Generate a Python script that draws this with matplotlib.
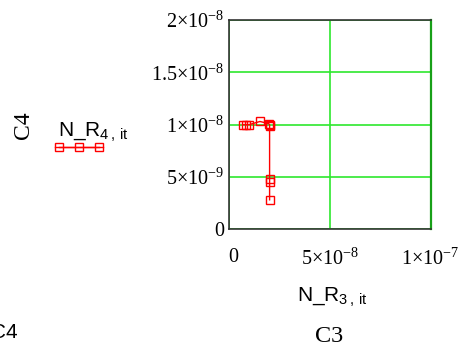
import numpy as np
import matplotlib
matplotlib.use("Agg")
import matplotlib.pyplot as plt
from matplotlib.transforms import ScaledTranslation

plt.rcParams['mathtext.fontset'] = 'custom'
plt.rcParams['mathtext.rm'] = 'Liberation Serif'

# N_R3,it (x) and N_R4,it (y) iteration values
n_r3 = [6.6e-9, 8.3e-9, 9.9e-9, 1.52e-8, 1.95e-8, 2.0e-8, 2.0e-8, 2.0e-8, 2.0e-8, 2.0e-8]
n_r4 = [1.0e-8, 1.0e-8, 1.0e-8, 1.03e-8, 1.01e-8, 1.0e-8, 0.99e-8, 0.48e-8, 0.45e-8, 0.28e-8]

x_ticks = [0, 5e-8, 1e-7]
x_labels = ['0', r'$\mathregular{5×10^{-8}}$', r'$\mathregular{1×10^{-7}}$']
y_ticks = [0, 5e-9, 1e-8, 1.5e-8, 2e-8]
y_labels = ['0', r'$\mathregular{5×10^{-9}}$', r'$\mathregular{1×10^{-8}}$',
            r'$\mathregular{1.5×10^{-8}}$', r'$\mathregular{2×10^{-8}}$']

red = '#ff0000'
green = '#2ee82e'

fig = plt.figure(figsize=(4.7, 3.54), dpi=100)
ax = fig.add_axes([0.488, 0.353, 0.428, 0.590])

ax.plot(n_r3, n_r4, color=red, lw=1, marker='s', ms=5.5, mfc='none', mec=red, mew=1)

ax.set_xlim(0, 1e-7)
ax.set_ylim(0, 2e-8)
ax.set_xticks(x_ticks)
ax.set_xticklabels(x_labels)
ax.set_yticks(y_ticks)
ax.set_yticklabels(y_labels)
ax.tick_params(length=0, labelsize=14.5)
ax.tick_params(axis='x', pad=14)
ax.tick_params(axis='y', pad=3.5)
for lab in ax.get_xticklabels() + ax.get_yticklabels():
    lab.set_family('Liberation Serif')
# the "0" under the x axis sits a little to the right
zero = ax.get_xticklabels()[0]
zero.set_transform(zero.get_transform() + ScaledTranslation(4 / 100, 0, fig.dpi_scale_trans))

ax.grid(True, color=green, lw=1.2)
ax.set_axisbelow(True)
for side in ['left', 'bottom', 'top']:
    ax.spines[side].set_color('#333333')
    ax.spines[side].set_linewidth(1.2)
ax.spines['right'].set_color('#18a018')
ax.spines['right'].set_linewidth(1.6)

# axis captions
fig.text(297 / 470, 1 - 301.5 / 354, r'$\mathregular{N\_R_{3\,,\,it}}$', family='Liberation Sans',
         fontsize=15, ha='left', va='baseline')
fig.text(329 / 470, 1 - 336 / 354, 'C3', family='Liberation Serif', fontsize=17.5,
         ha='center', va='center')
fig.text(23 / 470, 1 - 125.5 / 354, 'C4', family='Liberation Serif', fontsize=17,
         ha='center', va='center', rotation=90)
fig.text(-9 / 470, 1 - 333 / 354, 'C4', family='Liberation Sans', fontsize=15,
         ha='left', va='center')

# legend entry
fig.text(58 / 470, 1 - 137 / 354, r'$\mathregular{N\_R_{4\,,\,it}}$', family='Liberation Sans',
         fontsize=15, ha='left', va='baseline')
fig.add_artist(plt.Line2D([55 / 470, 103 / 470], [1 - 147 / 354] * 2, color=red, lw=1,
                          transform=fig.transFigure))
leg_x = np.array([59.5, 79, 98.5]) / 470
fig.add_artist(plt.Line2D(leg_x, [1 - 147 / 354] * 3, color=red, lw=1, marker='s', ms=5.5,
                          mfc='none', mec=red, transform=fig.transFigure))

fig.savefig('out.png', dpi=100)
